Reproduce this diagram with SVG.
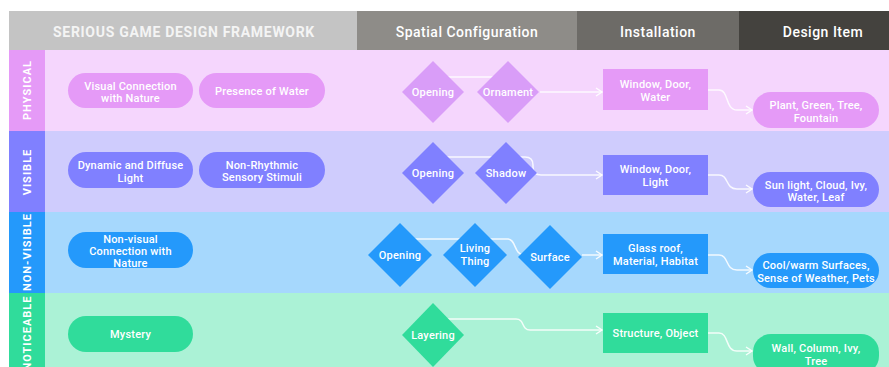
<svg xmlns="http://www.w3.org/2000/svg" width="889" height="367" viewBox="0 0 889 367">
<defs>
<style>
text{font-family:Roboto,"Liberation Sans",sans-serif;fill:#fff;text-anchor:middle}
.h{font-size:14px;font-weight:500;letter-spacing:0.5px}
.hb{font-size:14px;font-weight:700;letter-spacing:0.7px;fill:#f4f4f4}
.rl{font-size:11px;font-weight:700;letter-spacing:1px}
.t{font-size:11px;font-weight:500;letter-spacing:0.2px}
.c{fill:none;stroke:#fff;stroke-width:1.5;stroke-opacity:0.85}
.arr{marker-end:url(#ah)}
.p1{fill:#e59af7}.d1{fill:#d99df8}
.p2{fill:#8080ff}
.p3{fill:#2499fb}
.p4{fill:#30dc9b}
</style>
<marker id="ah" markerWidth="8" markerHeight="10" refX="7" refY="5" orient="auto" markerUnits="userSpaceOnUse">
<path d="M1,1 L7,5 L1,9" fill="none" stroke="#fff" stroke-width="1.4" stroke-opacity="0.9"/>
</marker>
</defs>
<rect width="889" height="367" fill="#fff"/>
<g id="header">
<rect x="9" y="11" width="348" height="39" fill="#c4c4c4"/>
<rect x="357" y="11" width="220" height="39" fill="#8e8c88"/>
<rect x="577" y="11" width="162" height="39" fill="#6d6b67"/>
<rect x="739" y="11" width="150" height="39" fill="#44423e"/>
<text class="hb" x="184" y="37">SERIOUS GAME DESIGN FRAMEWORK</text>
<text class="h" x="467" y="37">Spatial Configuration</text>
<text class="h" x="658" y="37">Installation</text>
<text class="h" x="823" y="37">Design Item</text>
</g>
<g id="rows">
<rect x="9" y="50" width="880" height="81" fill="#f5d6fd"/>
<rect x="9" y="50" width="36" height="81" fill="#e59af7"/>
<text class="rl" transform="translate(31,90) rotate(-90)">PHYSICAL</text>
<rect x="9" y="131" width="880" height="81" fill="#cfccfd"/>
<rect x="9" y="131" width="36" height="81" fill="#8080ff"/>
<text class="rl" transform="translate(31,172) rotate(-90)">VISIBLE</text>
<rect x="9" y="212" width="880" height="81" fill="#a6d8fd"/>
<rect x="9" y="212" width="36" height="81" fill="#2499fb"/>
<text class="rl" transform="translate(31,252) rotate(-90)">NON-VISIBLE</text>
<rect x="9" y="293" width="880" height="74" fill="#abf2d6"/>
<rect x="9" y="293" width="36" height="74" fill="#30dc9b"/>
<text class="rl" transform="translate(31,333) rotate(-90)">NOTICEABLE</text>
</g>
<g id="connectors">
<path class="c" d="M433 77 H508"/>
<path class="c arr" d="M540 92 H602"/>
<path class="c arr" d="M708 90 H719 C729 90 725 110 737 110 H752"/>
<path class="c arr" d="M433 157 H525 Q533 157 533 165 V167 Q533 175 541 175 H602"/>
<path class="c arr" d="M708 175 H719 C729 175 725 189 737 189 H752"/>
<path class="c" d="M400 239 H508 C516 239 514 255 524 255 H550"/>
<path class="c arr" d="M582 255 H602"/>
<path class="c arr" d="M708 255 H719 C729 255 725 270 737 270 H752"/>
<path class="c arr" d="M433 319 H516 C525 319 521 330 530 330 H602"/>
<path class="c arr" d="M708 333 H719 C729 333 725 351 737 351 H752"/>
</g>
<g id="n-visual-connection"><rect class="p1" x="68" y="73" width="125" height="35" rx="17.5"/><text class="t" x="130.5" y="89.5">Visual Connection</text><text class="t" x="130.5" y="102">with Nature</text></g>
<g id="n-presence-water"><rect class="p1" x="199" y="73" width="126" height="35" rx="17.5"/><text class="t" x="262" y="94.5">Presence of Water</text></g>
<g id="n-p-opening"><polygon class="d1" points="433,61 464,92 433,123 402,92"/><text class="t" x="433" y="96">Opening</text></g>
<g id="n-p-ornament"><polygon class="d1" points="508,61 539,92 508,123 477,92"/><text class="t" x="508" y="96">Ornament</text></g>
<g id="n-p-install"><rect class="p1" x="603" y="69" width="105" height="41"/><text class="t" x="655.5" y="87.5">Window, Door,</text><text class="t" x="655.5" y="100.5">Water</text></g>
<g id="n-p-item"><rect class="p1" x="753" y="92" width="126" height="36" rx="18"/><text class="t" x="816" y="109">Plant, Green, Tree,</text><text class="t" x="816" y="121.5">Fountain</text></g>
<g id="n-dynamic-light"><rect class="p2" x="68" y="152" width="125" height="36" rx="18"/><text class="t" x="130.5" y="169">Dynamic and Diffuse</text><text class="t" x="130.5" y="181.5">Light</text></g>
<g id="n-non-rhythmic"><rect class="p2" x="199" y="152" width="126" height="36" rx="18"/><text class="t" x="262" y="168.5">Non-Rhythmic</text><text class="t" x="262" y="181">Sensory Stimuli</text></g>
<g id="n-v-opening"><polygon class="p2" points="433,142 464,173 433,204 402,173"/><text class="t" x="433" y="177">Opening</text></g>
<g id="n-v-shadow"><polygon class="p2" points="506,142 537,173 506,204 475,173"/><text class="t" x="506" y="177">Shadow</text></g>
<g id="n-v-install"><rect class="p2" x="603" y="155" width="105" height="40"/><text class="t" x="655.5" y="173">Window, Door,</text><text class="t" x="655.5" y="185.5">Light</text></g>
<g id="n-v-item"><rect class="p2" x="753" y="172" width="126" height="35" rx="17.5"/><text class="t" x="816" y="188.5">Sun light, Cloud, Ivy,</text><text class="t" x="816" y="201">Water, Leaf</text></g>
<g id="n-non-visual"><rect class="p3" x="68" y="232" width="125" height="36" rx="18"/><text class="t" x="130.5" y="242.5">Non-visual</text><text class="t" x="130.5" y="254.5">Connection with</text><text class="t" x="130.5" y="266.5">Nature</text></g>
<g id="n-nv-opening"><polygon class="p3" points="400,223 432,255 400,287 368,255"/><text class="t" x="400" y="259">Opening</text></g>
<g id="n-nv-living"><polygon class="p3" points="475,223 507,255 475,287 443,255"/><text class="t" x="475" y="252">Living</text><text class="t" x="475" y="264.5">Thing</text></g>
<g id="n-nv-surface"><polygon class="p3" points="550,225 582,257 550,289 518,257"/><text class="t" x="550" y="261">Surface</text></g>
<g id="n-nv-install"><rect class="p3" x="603" y="234" width="105" height="40"/><text class="t" x="655.5" y="252">Glass roof,</text><text class="t" x="655.5" y="264.5">Material, Habitat</text></g>
<g id="n-nv-item"><rect class="p3" x="753" y="253" width="126" height="35" rx="17.5"/><text class="t" x="816" y="269">Cool/warm Surfaces,</text><text class="t" x="816" y="281.5">Sense of Weather, Pets</text></g>
<g id="n-mystery"><rect class="p4" x="68" y="316" width="125" height="36" rx="18"/><text class="t" x="130.5" y="338">Mystery</text></g>
<g id="n-n-layering"><polygon class="p4" points="433,303 464,335 433,367 402,335"/><text class="t" x="433" y="339">Layering</text></g>
<g id="n-n-install"><rect class="p4" x="603" y="313" width="105" height="40"/><text class="t" x="655.5" y="337">Structure, Object</text></g>
<g id="n-n-item"><rect class="p4" x="753" y="334" width="126" height="40" rx="18"/><text class="t" x="816" y="352">Wall, Column, Ivy,</text><text class="t" x="816" y="364.5">Tree</text></g>
</svg>
